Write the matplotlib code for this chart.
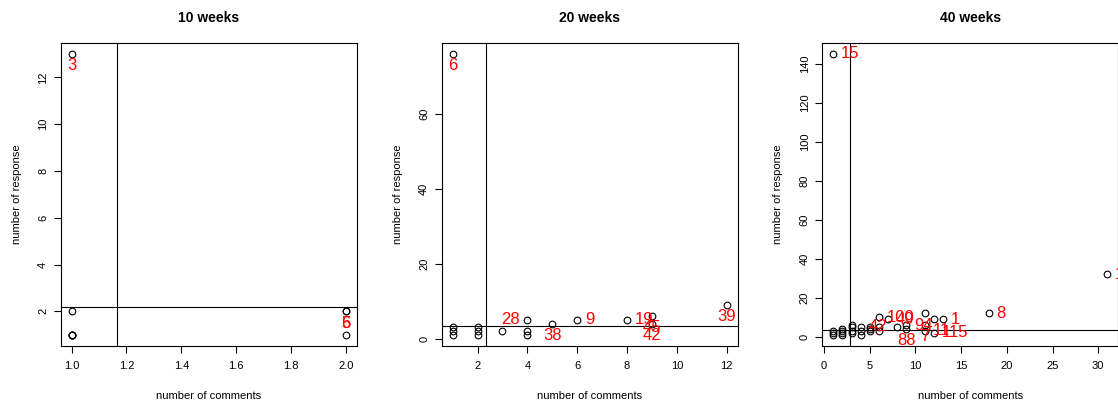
import matplotlib
matplotlib.use("Agg")
import matplotlib.pyplot as plt

plt.rcParams['font.family'] = ['Liberation Sans', 'DejaVu Sans']

# ---------------- data ----------------
titles = ["10 weeks", "20 weeks", "40 weeks"]

# 10 weeks
x10 = [1, 1, 1, 1, 1, 1, 2, 2, 2]
y10 = [13, 2, 1, 1, 1, 1, 2, 2, 1]
lab10_x = [1, 2, 2]
lab10_y = [13, 2, 2]
lab10_t = ["3", "6", "5"]
lab10_pos = ["below", "below", "below"]
vline10 = 1.167
hline10 = 2.19

# 20 weeks
x20 = [1, 1, 1, 1, 2, 2, 2, 3, 4, 4, 4, 5, 6, 8, 9, 9, 12]
y20 = [76, 3, 2, 1, 3, 2, 1, 2, 5, 2, 1, 4, 5, 5, 6, 4, 9]
lab20_x = [1, 4, 5, 6, 8, 9, 9, 12]
lab20_y = [76, 5, 4, 5, 5, 6, 4, 9]
lab20_t = ["6", "28", "38", "9", "19", "45", "42", "39"]
lab20_pos = ["below", "left", "below", "right", "right", "below", "below", "below"]
vline20 = 2.33
hline20 = 3.28

# 40 weeks
x40 = [1, 1, 1, 1, 2, 2, 2, 2, 3, 3, 3, 3, 4, 4, 4, 5, 5, 5,
       6, 6, 6, 7, 8, 9, 9, 11, 11, 11, 12, 12, 13, 18, 31]
y40 = [145, 1, 2, 3, 1, 2, 3, 4, 2, 3, 5, 6, 5, 3, 1, 5, 4, 3,
       10, 5, 3, 9, 5, 6, 4, 12, 6, 3, 9, 2, 9, 12, 32]
lab40_x = [1, 4, 6, 7, 9, 11, 11, 12, 13, 9, 18, 31]
lab40_y = [145, 5, 10, 9, 6, 6, 3, 2, 9, 4, 12, 32]
lab40_t = ["15", "42", "100", "49", "94", "7", "11", "115", "1", "88", "8", "13"]
lab40_pos = ["right", "right", "right", "right", "right", "below", "right",
             "right", "right", "below", "right", "right"]
vline40 = 2.87
hline40 = 3.7

xticks = [[1.0, 1.2, 1.4, 1.6, 1.8, 2.0], [2, 4, 6, 8, 10, 12], [0, 5, 10, 15, 20, 25, 30]]
xticklabels = [["1.0", "1.2", "1.4", "1.6", "1.8", "2.0"],
               ["2", "4", "6", "8", "10", "12"],
               ["0", "5", "10", "15", "20", "25", "30"]]
yticks = [[2, 4, 6, 8, 10, 12], [0, 20, 40, 60], [0, 20, 40, 60, 80, 100, 120, 140]]

panels = [
    (x10, y10, lab10_x, lab10_y, lab10_t, lab10_pos, vline10, hline10),
    (x20, y20, lab20_x, lab20_y, lab20_t, lab20_pos, vline20, hline20),
    (x40, y40, lab40_x, lab40_y, lab40_t, lab40_pos, vline40, hline40),
]

# ---------------- layout ----------------
W, H = 1118, 408
fig = plt.figure(figsize=(W / 100, H / 100), dpi=100)
lefts = [60.7, 441.7, 822.3]
top_px, bot_px, width_px = 42.7, 346.0, 296.0

offsets = {"below": (0, -8.5, "center", "center"),
           "right": (5.5, 0, "left", "center"),
           "left": (-5.5, 0, "right", "center")}

for i, (xs, ys, lx, ly, lt, lp, vl, hl) in enumerate(panels):
    ax = fig.add_axes([lefts[i] / W, 1 - bot_px / H, width_px / W, (bot_px - top_px) / H])
    ax.plot(xs, ys, linestyle='none', marker='o', markersize=4.8,
            markerfacecolor='none', markeredgecolor='black', markeredgewidth=0.8,
            clip_on=False)
    ax.margins(x=0.04, y=0.04)
    ax.axvline(vl, color='black', linewidth=0.8)
    ax.axhline(hl, color='black', linewidth=0.8)
    for x, y, t, p in zip(lx, ly, lt, lp):
        dx, dy, ha, va = offsets[p]
        ax.annotate(t, (x, y), xytext=(dx, dy), textcoords='offset points',
                    ha=ha, va=va, color='#FF0000', fontsize=12)
    ax.set_xticks(xticks[i])
    ax.set_xticklabels(xticklabels[i])
    ax.set_yticks(yticks[i])
    ax.set_yticklabels([str(v) for v in yticks[i]], rotation=90, va='center')
    ax.tick_params(direction='out', length=5, width=0.8, labelsize=8, color='black')
    ax.tick_params(axis='x', pad=6)
    ax.tick_params(axis='y', pad=4)
    for s in ax.spines.values():
        s.set_linewidth(0.8)
        s.set_color('black')
    ax.set_xlabel("number of comments", fontsize=8, labelpad=14)
    ax.set_ylabel("number of response", fontsize=8, labelpad=12)
    ax.set_title(titles[i], fontsize=10, fontweight='bold', pad=15)

fig.savefig("out.png", dpi=100)
